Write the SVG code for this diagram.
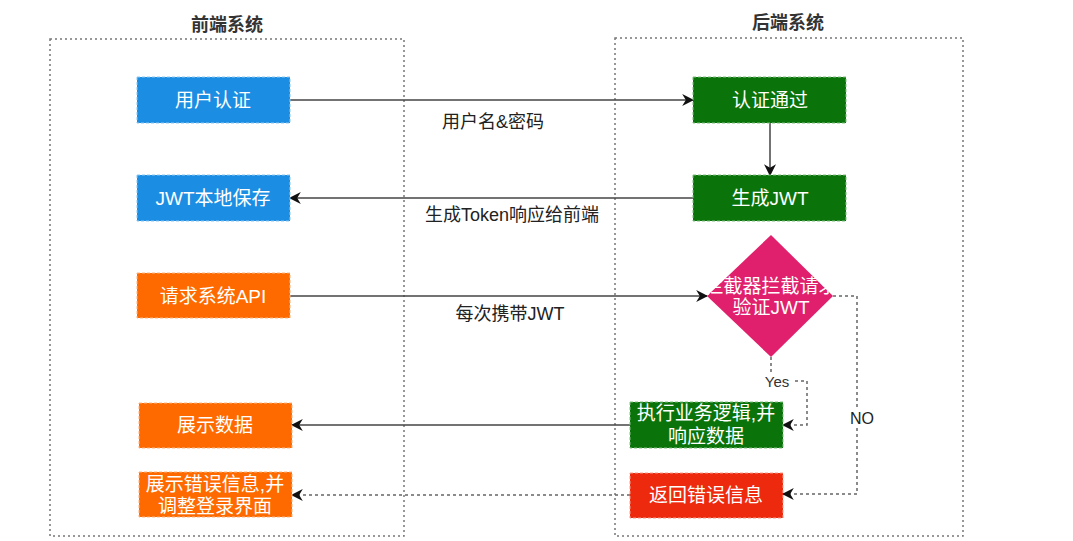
<svg xmlns="http://www.w3.org/2000/svg" width="1073" height="541" viewBox="0 0 1073 541">
<style>
.title{font-family:"Liberation Sans","Noto Sans CJK SC",sans-serif;font-size:18px;font-weight:bold;fill:#333;text-anchor:middle}
.bt{font-family:"Liberation Sans","Noto Sans CJK SC",sans-serif;font-size:19px;fill:#fff;text-anchor:middle;dominant-baseline:central}
.lbl{font-family:"Liberation Sans","Noto Sans CJK SC",sans-serif;font-size:18px;fill:#222;text-anchor:middle;dominant-baseline:central}
.container{fill:none;stroke:#777;stroke-width:1.5;stroke-dasharray:2 3}
.box{stroke-width:1;stroke-dasharray:3 2}
.solid{fill:none;stroke:#444;stroke-width:1.5}
.dash{fill:none;stroke:#666;stroke-width:1.5;stroke-dasharray:3 3}
</style>
<defs>
<marker id="arrL" viewBox="0 0 10 10" refX="9" refY="5" markerWidth="12" markerHeight="12" markerUnits="userSpaceOnUse" orient="auto">
<path d="M0,0 L10,5 L0,10 L3,5 z" fill="#111"/>
</marker>
</defs>
<rect width="1073" height="541" fill="#fff"/>
<g id="frontend">
<rect class="container" x="50" y="39" width="354" height="497"/>
<text class="title" x="227" y="31">前端系统</text>
</g>
<g id="backend">
<rect class="container" x="615" y="38" width="348" height="498"/>
<text class="title" x="788" y="29">后端系统</text>
</g>
<g id="connectors">
<line class="solid" x1="290" y1="100" x2="693" y2="100" marker-end="url(#arrL)"/>
<text class="lbl" x="493" y="122">用户名&amp;密码</text>
<line class="solid" x1="770" y1="123" x2="770" y2="175" marker-end="url(#arrL)"/>
<line class="solid" x1="693" y1="198" x2="290" y2="198" marker-end="url(#arrL)"/>
<text class="lbl" x="512" y="215">生成Token响应给前端</text>
<line class="solid" x1="290" y1="296" x2="707" y2="296" marker-end="url(#arrL)"/>
<text class="lbl" x="510" y="314">每次携带JWT</text>
<polyline class="dash" points="771,357 771,381 807,381 807,425 783,425" marker-end="url(#arrL)"/>
<rect x="759" y="372" width="36" height="18" fill="#fff"/>
<text x="777" y="381" font-family="Liberation Sans, sans-serif" font-size="15" fill="#333" text-anchor="middle" dominant-baseline="central">Yes</text>
<polyline class="dash" points="833,296 857,296 857,494 783,494" marker-end="url(#arrL)"/>
<rect x="845" y="408" width="34" height="20" fill="#fff"/>
<text x="862" y="418" font-family="Liberation Sans, sans-serif" font-size="16" fill="#222" text-anchor="middle" dominant-baseline="central">NO</text>
<line class="solid" x1="630" y1="425" x2="292" y2="425" marker-end="url(#arrL)"/>
<line class="dash" x1="630" y1="495" x2="292" y2="495" marker-end="url(#arrL)"/>
</g>
<g id="node-auth">
<rect class="box" x="137" y="77" width="153" height="46" fill="#1b8ee3" stroke="#8cc8f2"/>
<text class="bt" x="213" y="100">用户认证</text>
</g>
<g id="node-save">
<rect class="box" x="137" y="175" width="153" height="46" fill="#1b8ee3" stroke="#8cc8f2"/>
<text class="bt" x="213" y="198">JWT本地保存</text>
</g>
<g id="node-request">
<rect class="box" x="137" y="273" width="153" height="45" fill="#ff6a00" stroke="#ffb580"/>
<text class="bt" x="213" y="296">请求系统API</text>
</g>
<g id="node-show">
<rect class="box" x="139" y="403" width="153" height="45" fill="#ff6a00" stroke="#ffb580"/>
<text class="bt" x="215" y="425">展示数据</text>
</g>
<g id="node-showerr">
<rect class="box" x="139" y="472" width="153" height="45" fill="#ff6a00" stroke="#ffb580"/>
<text class="bt" x="215" y="484">展示错误信息,并</text>
<text class="bt" x="215" y="506">调整登录界面</text>
</g>
<g id="node-pass">
<rect class="box" x="693" y="77" width="153" height="46" fill="#0a740a" stroke="#7fbf7f"/>
<text class="bt" x="770" y="100">认证通过</text>
</g>
<g id="node-gen">
<rect class="box" x="693" y="175" width="153" height="46" fill="#0a740a" stroke="#7fbf7f"/>
<text class="bt" x="770" y="198">生成JWT</text>
</g>
<g id="node-check">
<polygon points="771,235 833,296 771,357 707,296" fill="#e0206c"/>
<text class="bt" x="771" y="286" font-size="17">拦截器拦截请求</text>
<text class="bt" x="771" y="307" font-size="17">验证JWT</text>
</g>
<g id="node-exec">
<rect class="box" x="630" y="402" width="153" height="46" fill="#0a740a" stroke="#7fbf7f"/>
<text class="bt" x="706" y="413">执行业务逻辑,并</text>
<text class="bt" x="706" y="436">响应数据</text>
</g>
<g id="node-err">
<rect class="box" x="630" y="473" width="153" height="45" fill="#ee2a0e" stroke="#f79a88"/>
<text class="bt" x="706" y="495">返回错误信息</text>
</g>
</svg>
